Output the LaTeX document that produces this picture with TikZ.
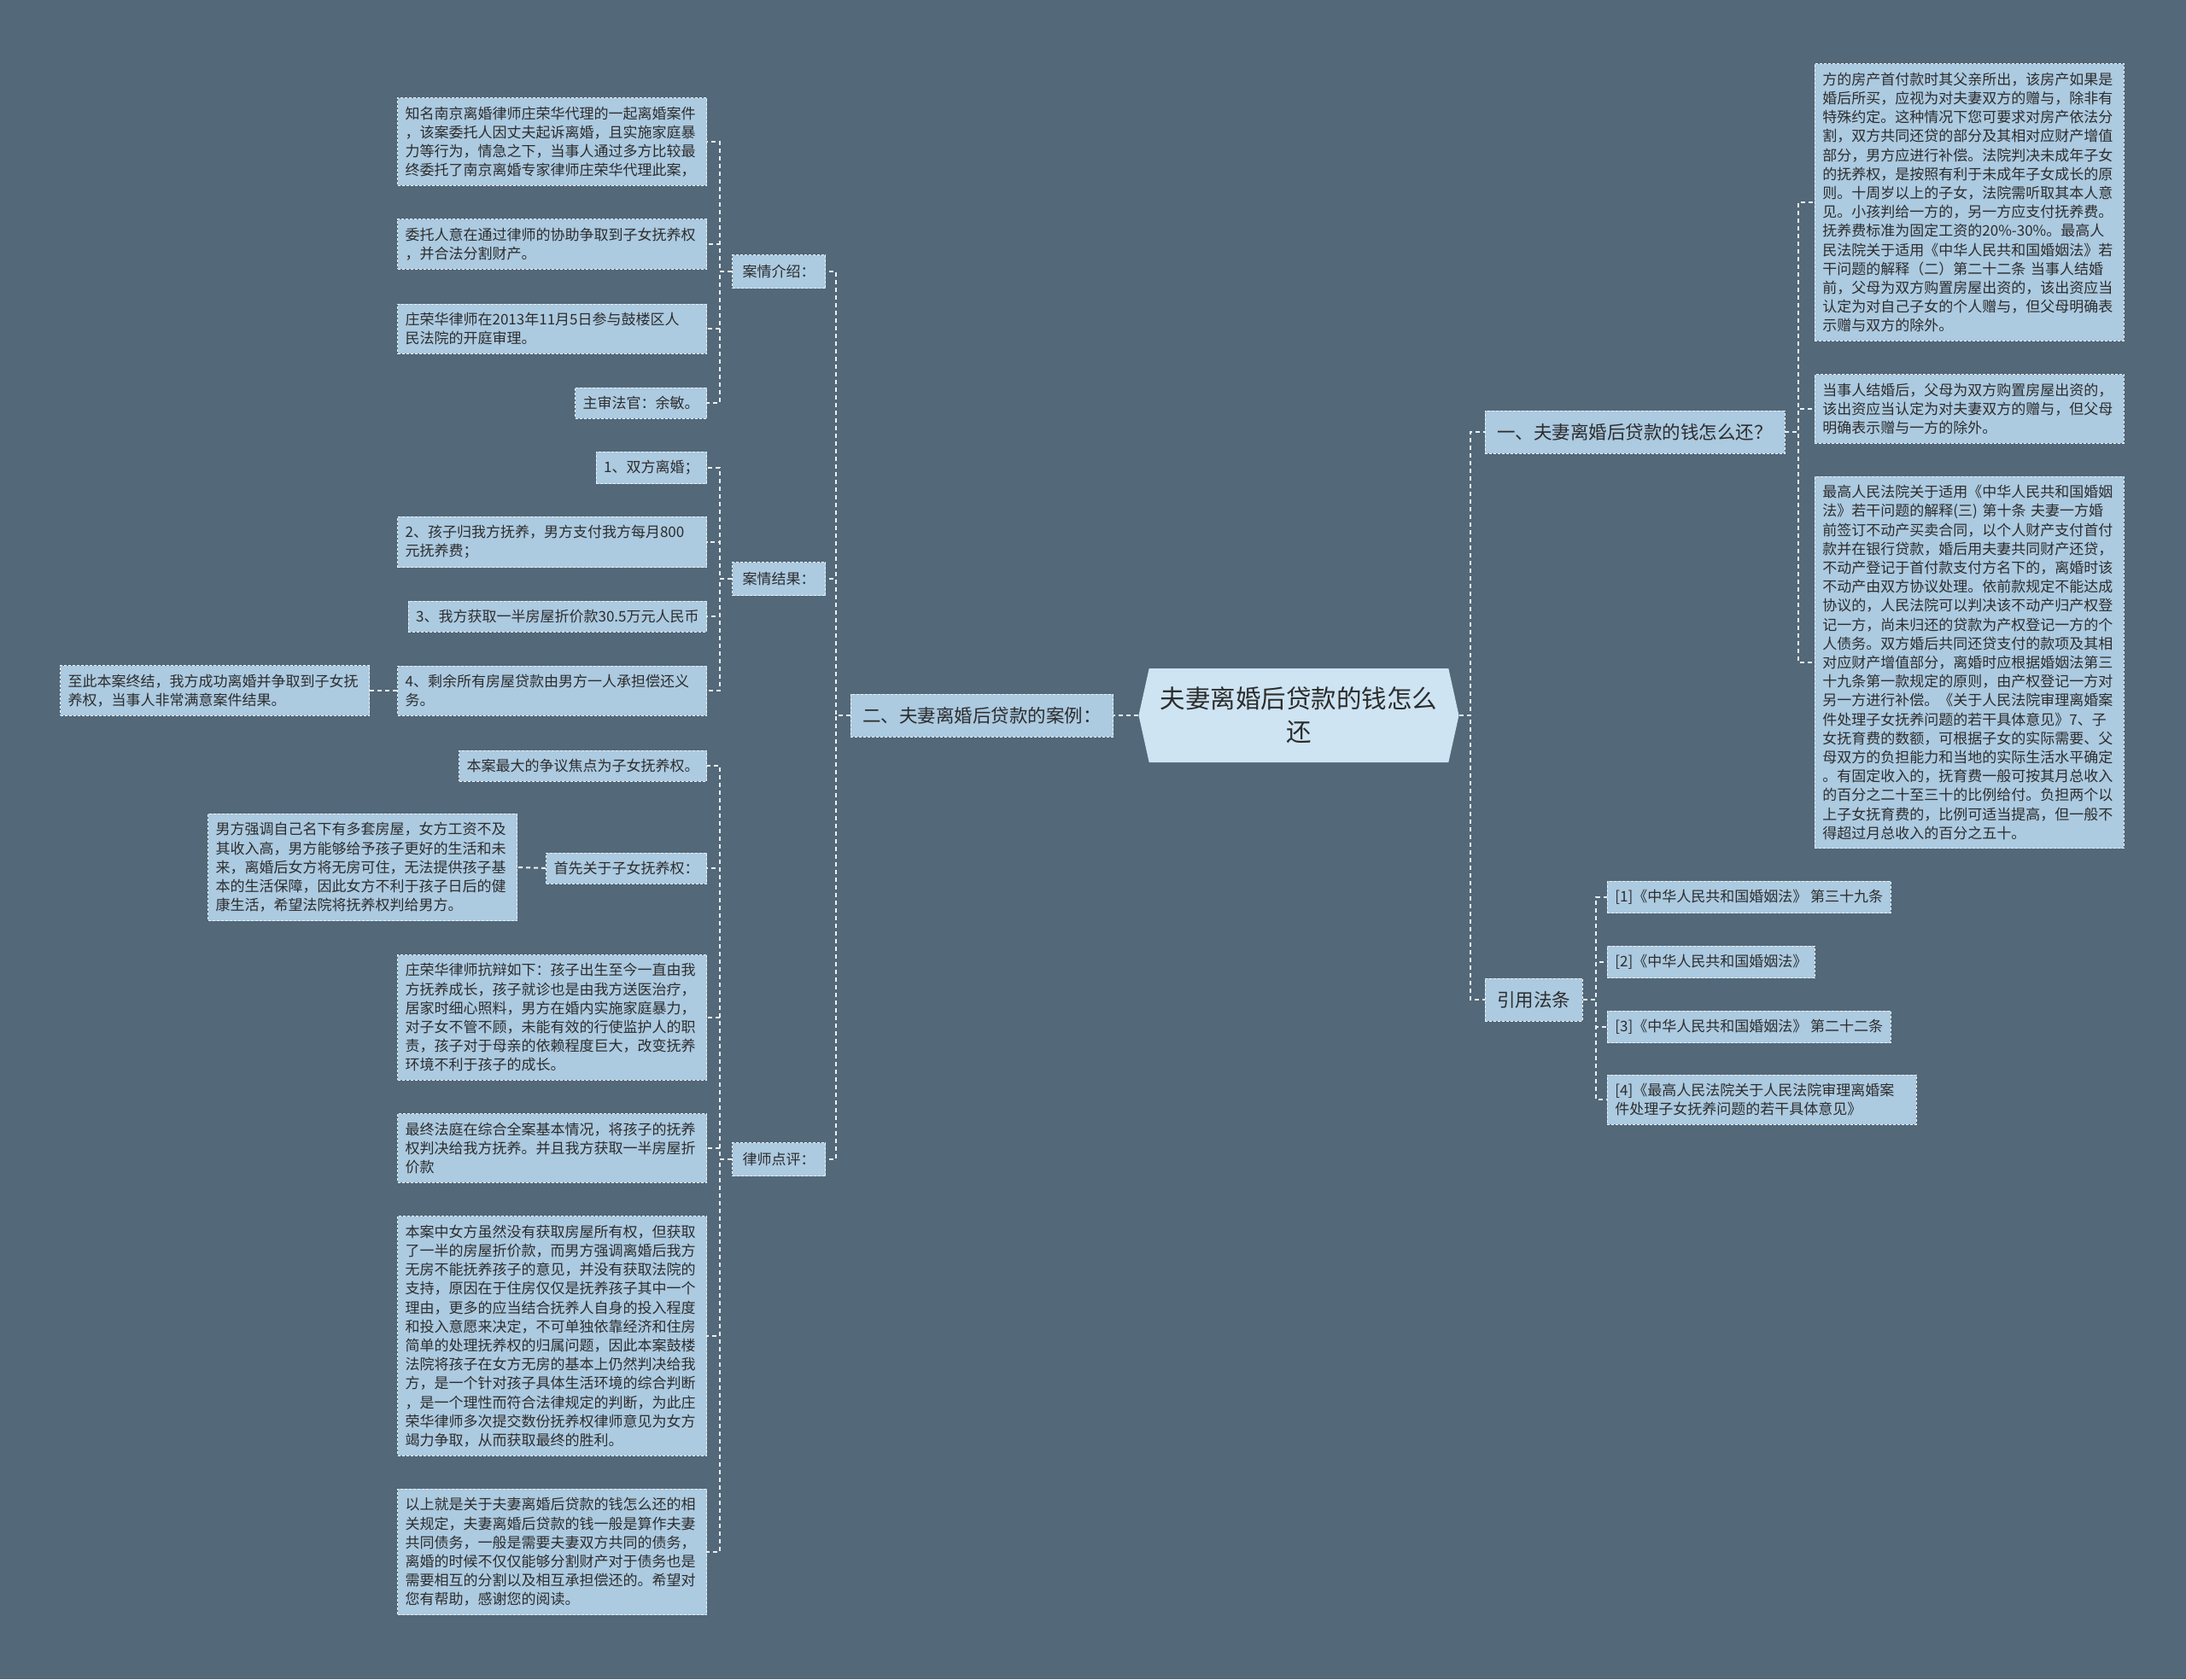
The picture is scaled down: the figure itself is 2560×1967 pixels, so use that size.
\documentclass[tikz,border=0pt]{standalone}
\usepackage{fontspec}
\setmainfont{Noto Sans CJK SC}
\usetikzlibrary{
    positioning,
    shapes.symbols
}
\definecolor{bgslate}{RGB}{83,104,120}
\definecolor{boxblue}{RGB}{172,202,224}
\definecolor{rootblue}{RGB}{206,228,242}
\definecolor{inkgray}{RGB}{45,45,45}
\definecolor{lineWhite}{RGB}{236,241,245}
\tikzset{
  leaf/.style     = {draw=lineWhite, dash pattern=on 1.5pt off 1pt, line width=0.4pt,
                     fill=boxblue, text=inkgray, align=left,
                     font=\fontsize{8.5}{11.1}\selectfont,
                     inner xsep=4.5pt, inner ysep=5pt},
  wide/.style     = {leaf, text width=172pt},
  sub/.style      = {leaf, minimum height=19.5pt, inner xsep=6pt},
  topic/.style    = {leaf, font=\fontsize{10.75}{13}\selectfont,
                     minimum height=25pt, inner xsep=7pt},
  rootnode/.style = {shape=signal, signal to=west and east, signal pointer angle=155,
                     fill=rootblue, text=inkgray, align=center,
                     font=\fontsize{14.75}{19.5}\selectfont,
                     minimum width=187.5pt, minimum height=55pt},
  conn/.style     = {draw=lineWhite, line width=1pt, dash pattern=on 2.5pt off 2pt}
}

\begin{document}
\begin{tikzpicture}[x=0.5pt, y=-0.5pt]
  \useasboundingbox (0,0) rectangle (2560,1967);
  \fill[bgslate] (0,0) rectangle (2560,1967);

  \node[rootnode] (root) at (1521,838) {夫妻离婚后贷款的钱怎么\\还};

  % left branch
  \node[topic, anchor=east] (case) at (1304,838) {二、夫妻离婚后贷款的案例：};
  \node[sub, anchor=east] (intro) at (967,318) {案情介绍：};
  \node[sub, anchor=east] (result) at (967,678) {案情结果：};
  \node[sub, anchor=east] (review) at (967,1358) {律师点评：};

  \node[wide, anchor=east] (a1) at (828,166) {知名南京离婚律师庄荣华代理的一起离婚案件\\，该案委托人因丈夫起诉离婚，且实施家庭暴\\力等行为，情急之下，当事人通过多方比较最\\终委托了南京离婚专家律师庄荣华代理此案，};
  \node[wide, anchor=east] (a2) at (828,286) {委托人意在通过律师的协助争取到子女抚养权\\，并合法分割财产。};
  \node[wide, anchor=east] (a3) at (828,385) {庄荣华律师在2013年11月5日参与鼓楼区人\\民法院的开庭审理。};
  \node[leaf, anchor=east] (a4) at (828,472) {主审法官：余敏。};

  \node[leaf, anchor=east] (b1) at (828,548) {1、双方离婚；};
  \node[wide, anchor=east] (b2) at (828,635) {2、孩子归我方抚养，男方支付我方每月800\\元抚养费；};
  \node[leaf, anchor=east] (b3) at (828,722) {3、我方获取一半房屋折价款30.5万元人民币};
  \node[wide, anchor=east] (b4) at (828,809) {4、剩余所有房屋贷款由男方一人承担偿还义\\务。};
  \node[wide, anchor=east] (bx) at (433,809) {至此本案终结，我方成功离婚并争取到子女抚\\养权，当事人非常满意案件结果。};

  \node[leaf, anchor=east] (c1) at (828,897) {本案最大的争议焦点为子女抚养权。};
  \node[leaf, anchor=east] (c2) at (828,1017) {首先关于子女抚养权：};
  \node[wide, anchor=east] (cx) at (606,1016) {男方强调自己名下有多套房屋，女方工资不及\\其收入高，男方能够给予孩子更好的生活和未\\来，离婚后女方将无房可住，无法提供孩子基\\本的生活保障，因此女方不利于孩子日后的健\\康生活，希望法院将抚养权判给男方。};
  \node[wide, anchor=east] (c3) at (828,1192) {庄荣华律师抗辩如下：孩子出生至今一直由我\\方抚养成长，孩子就诊也是由我方送医治疗，\\居家时细心照料，男方在婚内实施家庭暴力，\\对子女不管不顾，未能有效的行使监护人的职\\责，孩子对于母亲的依赖程度巨大，改变抚养\\环境不利于孩子的成长。};
  \node[wide, anchor=east] (c4) at (828,1345) {最终法庭在综合全案基本情况，将孩子的抚养\\权判决给我方抚养。并且我方获取一半房屋折\\价款};
  \node[wide, anchor=east] (c5) at (828,1565) {本案中女方虽然没有获取房屋所有权，但获取\\了一半的房屋折价款，而男方强调离婚后我方\\无房不能抚养孩子的意见，并没有获取法院的\\支持，原因在于住房仅仅是抚养孩子其中一个\\理由，更多的应当结合抚养人自身的投入程度\\和投入意愿来决定，不可单独依靠经济和住房\\简单的处理抚养权的归属问题，因此本案鼓楼\\法院将孩子在女方无房的基本上仍然判决给我\\方，是一个针对孩子具体生活环境的综合判断\\，是一个理性而符合法律规定的判断，为此庄\\荣华律师多次提交数份抚养权律师意见为女方\\竭力争取，从而获取最终的胜利。};
  \node[wide, anchor=east] (c6) at (828,1818) {以上就是关于夫妻离婚后贷款的钱怎么还的相\\关规定，夫妻离婚后贷款的钱一般是算作夫妻\\共同债务，一般是需要夫妻双方共同的债务，\\离婚的时候不仅仅能够分割财产对于债务也是\\需要相互的分割以及相互承担偿还的。希望对\\您有帮助，感谢您的阅读。};

  % right branch
  \node[topic, anchor=west] (q1) at (1739,506) {一、夫妻离婚后贷款的钱怎么还？};
  \node[topic, anchor=west] (cite) at (1739,1171) {引用法条};

  \node[wide, anchor=west] (d1) at (2125,237) {方的房产首付款时其父亲所出，该房产如果是\\婚后所买，应视为对夫妻双方的赠与，除非有\\特殊约定。这种情况下您可要求对房产依法分\\割，双方共同还贷的部分及其相对应财产增值\\部分，男方应进行补偿。法院判决未成年子女\\的抚养权，是按照有利于未成年子女成长的原\\则。十周岁以上的子女，法院需听取其本人意\\见。小孩判给一方的，另一方应支付抚养费。\\抚养费标准为固定工资的20\%-30\%。最高人\\民法院关于适用《中华人民共和国婚姻法》若\\干问题的解释（二）第二十二条 当事人结婚\\前，父母为双方购置房屋出资的，该出资应当\\认定为对自己子女的个人赠与，但父母明确表\\示赠与双方的除外。};
  \node[wide, anchor=west] (d2) at (2125,479) {当事人结婚后，父母为双方购置房屋出资的，\\该出资应当认定为对夫妻双方的赠与，但父母\\明确表示赠与一方的除外。};
  \node[wide, anchor=west] (d3) at (2125,776) {最高人民法院关于适用《中华人民共和国婚姻\\法》若干问题的解释(三) 第十条 夫妻一方婚\\前签订不动产买卖合同，以个人财产支付首付\\款并在银行贷款，婚后用夫妻共同财产还贷，\\不动产登记于首付款支付方名下的，离婚时该\\不动产由双方协议处理。依前款规定不能达成\\协议的，人民法院可以判决该不动产归产权登\\记一方，尚未归还的贷款为产权登记一方的个\\人债务。双方婚后共同还贷支付的款项及其相\\对应财产增值部分，离婚时应根据婚姻法第三\\十九条第一款规定的原则，由产权登记一方对\\另一方进行补偿。《关于人民法院审理离婚案\\件处理子女抚养问题的若干具体意见》7、子\\女抚育费的数额，可根据子女的实际需要、父\\母双方的负担能力和当地的实际生活水平确定\\。有固定收入的，抚育费一般可按其月总收入\\的百分之二十至三十的比例给付。负担两个以\\上子女抚育费的，比例可适当提高，但一般不\\得超过月总收入的百分之五十。};

  \node[leaf, anchor=west] (e1) at (1882,1051) {[1]《中华人民共和国婚姻法》 第三十九条};
  \node[leaf, anchor=west] (e2) at (1882,1127) {[2]《中华人民共和国婚姻法》};
  \node[leaf, anchor=west] (e3) at (1882,1203) {[3]《中华人民共和国婚姻法》 第二十二条};
  \node[wide, anchor=west] (e4) at (1882,1288) {[4]《最高人民法院关于人民法院审理离婚案\\件处理子女抚养问题的若干具体意见》};

  % connectors
  \draw[conn] (root.west) -- (case.east);
  \foreach \k in {intro, result, review}
    \draw[conn] (case.west) -- ++(-17,0) |- (\k.east);
  \foreach \k in {a1, a2, a3, a4}
    \draw[conn] (intro.west) -- ++(-14,0) |- (\k.east);
  \foreach \k in {b1, b2, b3, b4}
    \draw[conn] (result.west) -- ++(-14,0) |- (\k.east);
  \foreach \k in {c1, c2, c3, c4, c5, c6}
    \draw[conn] (review.west) -- ++(-14,0) |- (\k.east);
  \draw[conn] (b4.west) -- (bx.east);
  \draw[conn] (c2.west) -- (cx.east);

  \foreach \k in {q1, cite}
    \draw[conn] (root.east) -- ++(13,0) |- (\k.west);
  \foreach \k in {d1, d2, d3}
    \draw[conn] (q1.east) -- ++(16,0) |- (\k.west);
  \foreach \k in {e1, e2, e3, e4}
    \draw[conn] (cite.east) -- ++(15,0) |- (\k.west);
\end{tikzpicture}
\end{document}
